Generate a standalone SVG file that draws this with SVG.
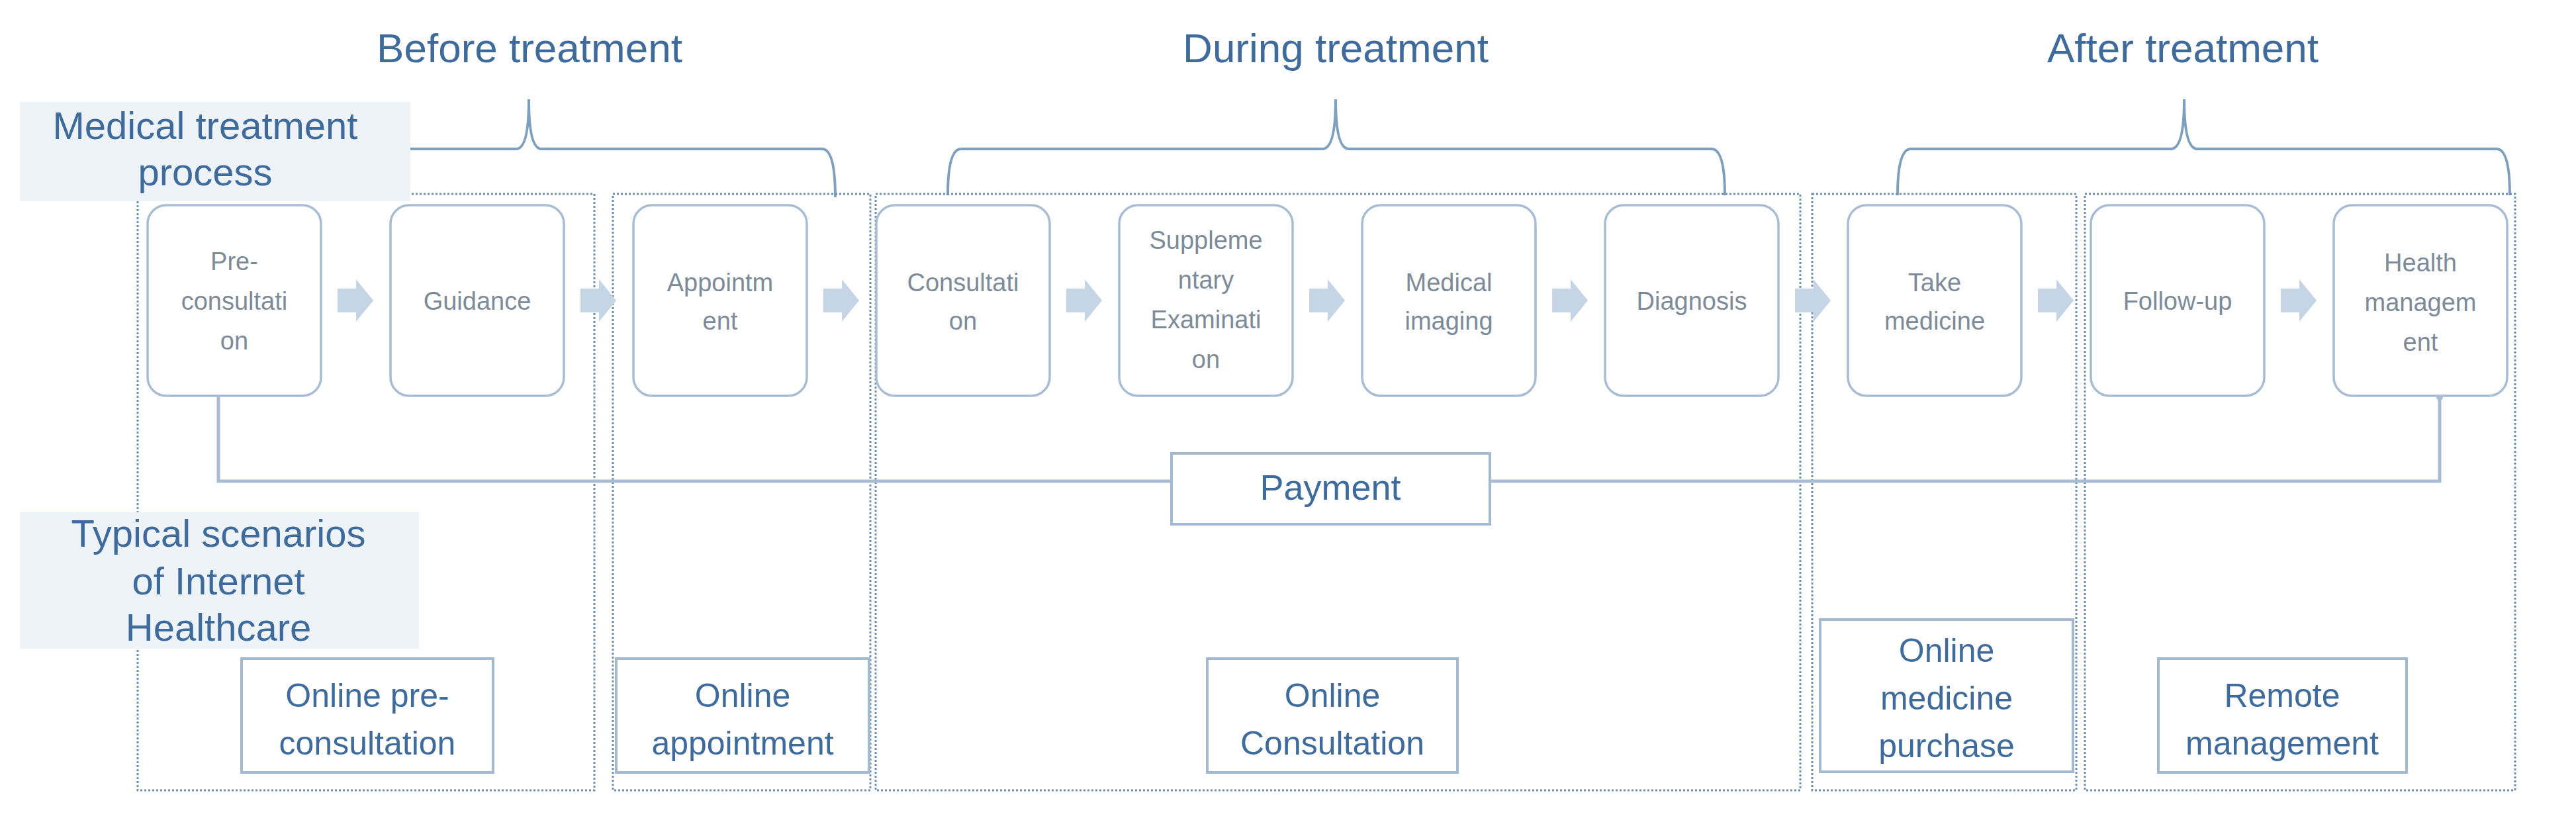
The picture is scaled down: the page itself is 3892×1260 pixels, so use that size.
<svg xmlns="http://www.w3.org/2000/svg" width="3892" height="1260" viewBox="0 0 3892 1260">
<style>
text{font-family:"Liberation Sans",Arial,sans-serif}
.t{fill:#3e6b9c;font-size:62px;text-anchor:middle}
.lbl{fill:#3e6b9c;font-size:58px;text-anchor:middle}
.bg{fill:#eef3f8}
.brace{fill:none;stroke:#7f9fbf;stroke-width:4}
.reg{fill:none;stroke:#6f8fb0;stroke-width:3;stroke-dasharray:3 3}
.node{fill:#fff;stroke:#a9bdd2;stroke-width:3.5}
.nt{fill:#7d8b99;font-size:38px;text-anchor:middle}
.arr{fill:#c5d5e5}
.box{fill:#fff;stroke:#a3b9cf;stroke-width:4}
.bt{fill:#3e6b9c;font-size:50px;text-anchor:middle}
.line{fill:none;stroke:#a9bdd2;stroke-width:5}
</style>
<rect width="3892" height="1260" fill="#fff"/>
<g id="headers">
<text class="t" x="800" y="94">Before treatment</text>
<text class="t" x="2018" y="94">During treatment</text>
<text class="t" x="3298" y="94">After treatment</text>
<path class="brace" d="M340,298 Q340,225 360,225 L780,225 Q799,225 799,150 Q799,225 818,225 L1242,225 Q1262,225 1262,298"/>
<path class="brace" d="M1432,295 Q1432,225 1452,225 L1998,225 Q2018,225 2018,150 Q2018,225 2038,225 L2586,225 Q2606,225 2606,295"/>
<path class="brace" d="M2867,295 Q2867,225 2887,225 L3280,225 Q3300,225 3300,150 Q3300,225 3320,225 L3772,225 Q3792,225 3792,295"/>
</g>
<g id="regions">
<rect class="reg" x="208" y="293" width="690" height="901"/>
<rect class="reg" x="926" y="293" width="389" height="901"/>
<rect class="reg" x="1323" y="293" width="1397" height="901"/>
<rect class="reg" x="2738" y="293" width="399" height="901"/>
<rect class="reg" x="3150" y="293" width="650" height="901"/>
</g>
<g id="label-process">
<rect class="bg" x="30" y="154" width="590" height="150"/>
<text class="lbl" x="310" y="210">Medical treatment</text>
<text class="lbl" x="310" y="280">process</text>
</g>
<g id="label-scenarios">
<rect class="bg" x="30" y="774" width="603" height="206"/>
<text class="lbl" x="330" y="826">Typical scenarios</text>
<text class="lbl" x="330" y="898">of Internet</text>
<text class="lbl" x="330" y="968">Healthcare</text>
</g>
<g id="connectors">
<path class="line" d="M330,598 V727 H1770 M2251,727 H3686 V598"/>
<circle cx="3686" cy="600" r="5" fill="#a9bdd2"/>
<g class="arr">
<path d="M510,436 h28 v-14 l26,32 l-26,32 v-14 h-28z"/>
<path d="M877,436 h28 v-14 l26,32 l-26,32 v-14 h-28z"/>
<path d="M1244,436 h28 v-14 l26,32 l-26,32 v-14 h-28z"/>
<path d="M1611,436 h28 v-14 l26,32 l-26,32 v-14 h-28z"/>
<path d="M1978,436 h28 v-14 l26,32 l-26,32 v-14 h-28z"/>
<path d="M2345,436 h28 v-14 l26,32 l-26,32 v-14 h-28z"/>
<path d="M2712,436 h28 v-14 l26,32 l-26,32 v-14 h-28z"/>
<path d="M3079,436 h28 v-14 l26,32 l-26,32 v-14 h-28z"/>
<path d="M3446,436 h28 v-14 l26,32 l-26,32 v-14 h-28z"/>
</g>
</g>
<g id="n-pre"><rect class="node" x="223" y="310" width="262" height="288" rx="28"/><text class="nt" x="354" y="408">Pre-</text><text class="nt" x="354" y="468">consultati</text><text class="nt" x="354" y="528">on</text></g>
<g id="n-guidance"><rect class="node" x="590" y="310" width="262" height="288" rx="28"/><text class="nt" x="721" y="468">Guidance</text></g>
<g id="n-appointment"><rect class="node" x="957" y="310" width="262" height="288" rx="28"/><text class="nt" x="1088" y="440">Appointm</text><text class="nt" x="1088" y="498">ent</text></g>
<g id="n-consultation"><rect class="node" x="1324" y="310" width="262" height="288" rx="28"/><text class="nt" x="1455" y="440">Consultati</text><text class="nt" x="1455" y="498">on</text></g>
<g id="n-supp"><rect class="node" x="1691" y="310" width="262" height="288" rx="28"/><text class="nt" x="1822" y="376">Suppleme</text><text class="nt" x="1822" y="436">ntary</text><text class="nt" x="1822" y="496">Examinati</text><text class="nt" x="1822" y="556">on</text></g>
<g id="n-imaging"><rect class="node" x="2058" y="310" width="262" height="288" rx="28"/><text class="nt" x="2189" y="440">Medical</text><text class="nt" x="2189" y="498">imaging</text></g>
<g id="n-diagnosis"><rect class="node" x="2425" y="310" width="262" height="288" rx="28"/><text class="nt" x="2556" y="468">Diagnosis</text></g>
<g id="n-take"><rect class="node" x="2792" y="310" width="262" height="288" rx="28"/><text class="nt" x="2923" y="440">Take</text><text class="nt" x="2923" y="498">medicine</text></g>
<g id="n-follow"><rect class="node" x="3159" y="310" width="262" height="288" rx="28"/><text class="nt" x="3290" y="468">Follow-up</text></g>
<g id="n-health"><rect class="node" x="3526" y="310" width="262" height="288" rx="28"/><text class="nt" x="3657" y="410">Health</text><text class="nt" x="3657" y="470">managem</text><text class="nt" x="3657" y="530">ent</text></g>
<g id="payment"><rect class="box" x="1770" y="685" width="481" height="107"/><text class="bt" x="2010" y="755" style="font-size:54px">Payment</text></g>
<g id="s-pre"><rect class="box" x="365" y="995" width="380" height="172"/><text class="bt" x="555" y="1068">Online pre-</text><text class="bt" x="555" y="1140">consultation</text></g>
<g id="s-appt"><rect class="box" x="931" y="995" width="382" height="172"/><text class="bt" x="1122" y="1068">Online</text><text class="bt" x="1122" y="1140">appointment</text></g>
<g id="s-consult"><rect class="box" x="1824" y="995" width="378" height="172"/><text class="bt" x="2013" y="1068">Online</text><text class="bt" x="2013" y="1140">Consultation</text></g>
<g id="s-medicine"><rect class="box" x="2750" y="936" width="382" height="230"/><text class="bt" x="2941" y="1000">Online</text><text class="bt" x="2941" y="1072">medicine</text><text class="bt" x="2941" y="1144">purchase</text></g>
<g id="s-remote"><rect class="box" x="3261" y="995" width="375" height="172"/><text class="bt" x="3448" y="1068">Remote</text><text class="bt" x="3448" y="1140">management</text></g>
</svg>
